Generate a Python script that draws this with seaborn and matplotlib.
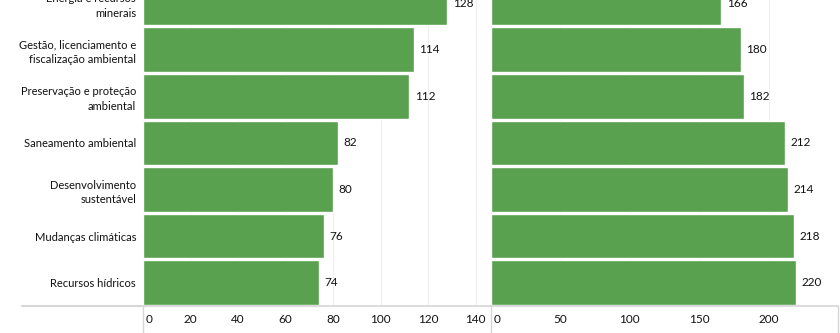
import matplotlib
matplotlib.use("Agg")
import matplotlib.pyplot as plt
from matplotlib.lines import Line2D
from matplotlib.transforms import ScaledTranslation
import seaborn as sns
import pandas as pd

categories = [
    "Energia e recursos\nminerais",
    "Gestão, licenciamento e\nfiscalização ambiental",
    "Preservação e proteção\nambiental",
    "Saneamento ambiental",
    "Desenvolvimento\nsustentável",
    "Mudanças climáticas",
    "Recursos hídricos",
]
left_values = [128, 114, 112, 82, 80, 76, 74]
right_values = [166, 180, 182, 212, 214, 218, 220]
left_ticks = [0, 20, 40, 60, 80, 100, 120, 140]
right_ticks = [0, 50, 100, 150, 200]

GREEN = "#59A14F"
TEXT = "#111111"
GRID = "#efefef"
LINE = "#d6d6d6"

sns.set_theme(style="white")
plt.rcParams["font.family"] = ["Lato", "DejaVu Sans"]

W, H = 840, 333
fig = plt.figure(figsize=(W / 100, H / 100), dpi=100)

ax_bottom = 27 / H
ax_height = 306 / H
ax1 = fig.add_axes([143 / W, ax_bottom, (491 - 143) / W, ax_height])
ax2 = fig.add_axes([491 / W, ax_bottom, (838 - 491) / W, ax_height])

df = pd.DataFrame({"cat": categories, "left": left_values, "right": right_values})

for ax, col, ticks, xmax in [(ax1, "left", left_ticks, 146.5), (ax2, "right", right_ticks, 250)]:
    sns.barplot(data=df, x=col, y="cat", orient="h", color=GREEN, saturation=1,
                width=0.955, ax=ax, zorder=2)
    ax.set_xlim(0, xmax)
    ax.set_ylim(6.5, -0.067)
    for s in ["top", "right", "left"]:
        ax.spines[s].set_visible(False)
    ax.spines["bottom"].set_color(LINE)
    ax.spines["bottom"].set_linewidth(1.2)
    ax.set_xlabel("")
    ax.set_ylabel("")
    ax.set_xticks(ticks, [str(t) for t in ticks])
    ax.tick_params(axis="x", length=0, pad=6, labelsize=8.5, labelcolor=TEXT)
    ax.tick_params(axis="y", length=0, pad=5, labelsize=8, labelcolor=TEXT)
    for t in ticks:
        ax.axvline(t, color=GRID, lw=0.8, zorder=0)
    ax.bar_label(ax.containers[0], padding=4, fontsize=8.5, color=TEXT)
    lbls = ax.get_xticklabels()
    lbls[0].set_ha("left")
    lbls[0].set_transform(lbls[0].get_transform() + ScaledTranslation(3 / 100, 0, fig.dpi_scale_trans))

ax2.set_yticks([])
for lbl in ax1.get_yticklabels():
    lbl.set_ha("right")
    lbl.set_multialignment("right")
    lbl.set_linespacing(1.4)

# frame lines in the axis band and label column
fig.add_artist(Line2D([22 / W, 143 / W], [ax_bottom, ax_bottom], color=LINE, lw=1.5,
                      transform=fig.transFigure))
for xp in [143, 491, 838]:
    fig.add_artist(Line2D([xp / W, xp / W], [0, ax_bottom], color=LINE, lw=1.0,
                          transform=fig.transFigure))

fig.savefig("out.png", dpi=100)
